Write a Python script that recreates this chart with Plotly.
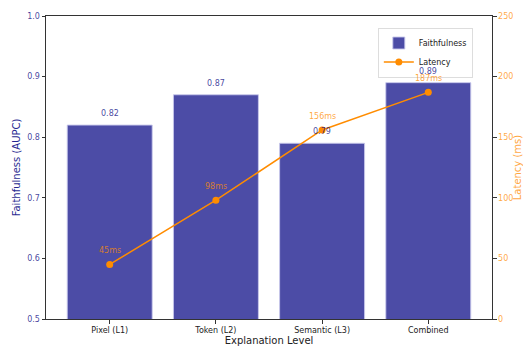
import plotly.graph_objects as go

categories = ["Pixel (L1)", "Token (L2)", "Semantic (L3)", "Combined"]
faithfulness = [0.82, 0.87, 0.79, 0.89]
latency = [45, 98, 156, 187]
faith_labels = ["0.82", "0.87", "0.79", "0.89"]
latency_labels = ["45ms", "98ms", "156ms", "187ms"]

FONT = "DejaVu Sans"
BAR = "rgba(0,0,128,0.7)"
ORANGE = "#FF8C00"
ORANGE_LT = "rgba(255,140,0,0.75)"
NAVY_LT = "rgba(0,0,128,0.75)"

xs = list(range(len(categories)))

fig = go.Figure()
fig.add_trace(go.Bar(
    x=xs, y=faithfulness, name="Faithfulness", width=0.8,
    marker=dict(color=BAR, line=dict(color="rgba(200,200,235,0.9)", width=1)),
    yaxis="y",
))
fig.add_trace(go.Scatter(
    x=xs, y=latency, name="Latency", mode="lines+markers",
    line=dict(color=ORANGE, width=1.5),
    marker=dict(color=ORANGE, size=7),
    yaxis="y2",
))

annotations = []
for x, v, t in zip(xs, faithfulness, faith_labels):
    annotations.append(dict(x=x, y=v + 0.008, xref="x", yref="y", text=t,
                            showarrow=False, yanchor="bottom",
                            font=dict(family=FONT, size=8, color=NAVY_LT)))
for x, v, t in zip(xs, latency, latency_labels):
    annotations.append(dict(x=x, y=v + 6, xref="x", yref="y2", text=t,
                            showarrow=False, yanchor="bottom",
                            font=dict(family=FONT, size=8, color=ORANGE_LT)))

fig.update_layout(
    width=523, height=347,
    margin=dict(l=46, r=31, t=16, b=28, autoexpand=False),
    paper_bgcolor="white", plot_bgcolor="white",
    font=dict(family=FONT, size=8, color="#222"),
    showlegend=True,
    legend=dict(x=0.744, y=0.962, xanchor="left", yanchor="top",
                bgcolor="rgba(255,255,255,0.8)", bordercolor="#ddd", borderwidth=1,
                font=dict(family=FONT, size=8, color="#222"),
                tracegroupgap=0, itemwidth=30),
    xaxis=dict(
        tickmode="array", tickvals=xs, ticktext=categories,
        range=[-0.6, 3.6], showgrid=False, zeroline=False, automargin=False,
        showline=True, linecolor="#333", linewidth=1, mirror=True,
        ticks="outside", ticklen=3.5, tickcolor="#333",
        tickfont=dict(family=FONT, size=8, color="#222"),
        title=dict(text="Explanation Level", font=dict(family=FONT, size=10, color="#222"), standoff=2),
    ),
    yaxis=dict(
        range=[0.5, 1.0], dtick=0.1, tickformat=".1f",
        showgrid=False, zeroline=False, automargin=False,
        showline=True, linecolor="#333", linewidth=1,
        ticks="outside", ticklen=3.5, tickcolor="#333",
        tickfont=dict(family=FONT, size=8, color=NAVY_LT),
        title=dict(text="Faithfulness (AUPC)", font=dict(family=FONT, size=10, color="rgba(0,0,128,0.85)"), standoff=4),
    ),
    yaxis2=dict(
        range=[0, 250], dtick=50, overlaying="y", side="right",
        showgrid=False, zeroline=False, automargin=False,
        showline=True, linecolor="#333", linewidth=1,
        ticks="outside", ticklen=3.5, tickcolor="#333",
        tickfont=dict(family=FONT, size=8, color=ORANGE_LT),
        title=dict(text="Latency (ms)", font=dict(family=FONT, size=10, color=ORANGE_LT), standoff=4),
    ),
    annotations=annotations,
)

fig.write_html("out.html")
